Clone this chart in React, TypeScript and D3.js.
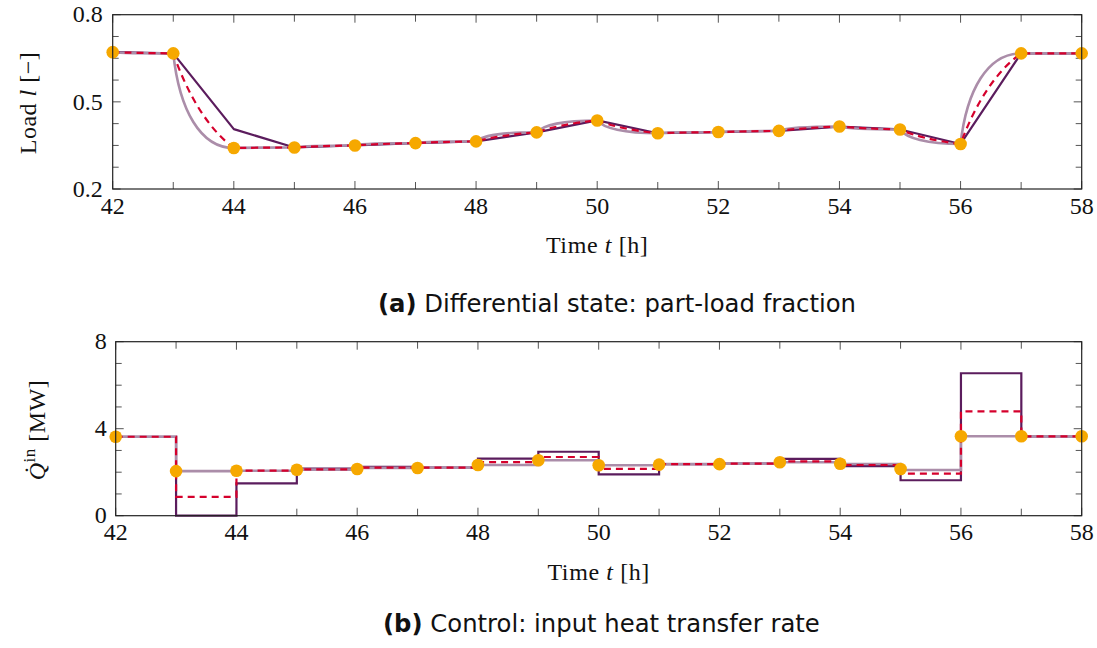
import React from "react";
import * as d3 from "d3";

// ---------- data ----------
const hours = [42, 43, 44, 45, 46, 47, 48, 49, 50, 51, 52, 53, 54, 55, 56, 57, 58];
// part-load fraction at the collocation points (orange dots)
const loadPoints = [0.671, 0.667, 0.341, 0.343, 0.35, 0.358, 0.364, 0.395, 0.436, 0.392, 0.396, 0.4, 0.415, 0.405, 0.355, 0.667, 0.667];
const loadDark = [0.671, 0.667, 0.406, 0.343, 0.35, 0.358, 0.364, 0.395, 0.436, 0.392, 0.396, 0.4, 0.415, 0.405, 0.355, 0.667, 0.667];
const loadRed = [0.671, 0.667, 0.341, 0.343, 0.35, 0.358, 0.364, 0.395, 0.436, 0.392, 0.396, 0.4, 0.415, 0.405, 0.355, 0.667, 0.667];
const loadMauve = [0.671, 0.667, 0.341, 0.343, 0.35, 0.358, 0.364, 0.395, 0.436, 0.392, 0.396, 0.4, 0.415, 0.405, 0.355, 0.667, 0.667];

// input heat transfer rate per hour interval [k, k+1], k = 42..57
const qMauve = [3.63, 2.05, 2.07, 2.12, 2.2, 2.21, 2.33, 2.55, 2.32, 2.37, 2.39, 2.46, 2.38, 2.1, 3.65, 3.65];
const qRed = [3.63, 0.87, 2.07, 2.13, 2.21, 2.21, 2.46, 2.7, 2.15, 2.37, 2.39, 2.5, 2.33, 1.93, 4.8, 3.65];
const qDark = [3.63, 0.0, 1.49, 2.16, 2.25, 2.21, 2.62, 2.94, 1.9, 2.37, 2.39, 2.61, 2.28, 1.63, 6.55, 3.65];
const qPoints = [3.63, 2.05, 2.07, 2.11, 2.15, 2.19, 2.33, 2.55, 2.32, 2.35, 2.37, 2.46, 2.39, 2.15, 3.65, 3.65, 3.65];

const xTicksMajor = [42, 44, 46, 48, 50, 52, 54, 56, 58];
const xTicksMinor = [43, 45, 47, 49, 51, 53, 55, 57];
const loadTicksMajor = [0.2, 0.5, 0.8];
const loadTicksMinor = [0.275, 0.35, 0.425, 0.575, 0.65, 0.725];
const qTicksMajor = [0, 4, 8];
const qTicksMinor = [1, 2, 3, 5, 6, 7];

// ---------- style ----------
const C_DARK = "#5b1c5d";
const C_MAUVE = "#ab8da9";
const C_RED = "#d5002c";
const C_DOT = "#f6a800";
const SERIF = "'Liberation Serif', 'DejaVu Serif', serif";
const SANS = "'DejaVu Sans', 'Liberation Sans', sans-serif";
const FS = 24;

// custom d3 curve: first-order (relaxation) shaped segments, s = 0 -> linear
function curveRelax(s: number) {
  return (context: any) => {
    let started = false;
    let x0 = 0, y0 = 0;
    return {
      areaStart() {},
      areaEnd() {},
      lineStart() { started = false; },
      lineEnd() {},
      point(x: number, y: number) {
        if (!started) {
          context.moveTo(x, y);
          started = true;
        } else {
          const dx = x - x0, dy = y - y0;
          context.bezierCurveTo(
            x0 + dx * (1 / 3 - s * 0.2333), y0 + dy * (1 / 3 + s * 0.2667),
            x0 + dx * (2 / 3 - s * 0.2167), y0 + dy * (2 / 3 + s / 3),
            x, y
          );
        }
        x0 = x; y0 = y;
      },
    };
  };
}

type Panel = {
  left: number; right: number; top: number; bottom: number;
};

function Frame({ p, x, y, yMaj, yMin }: { p: Panel; x: any; y: any; yMaj: number[]; yMin: number[] }) {
  const tk = "#555";
  return (
    <g>
      {xTicksMajor.map((t) => (
        <g key={"xM" + t}>
          <line x1={x(t)} x2={x(t)} y1={p.bottom} y2={p.bottom - 8} stroke={tk} strokeWidth={1} />
          <line x1={x(t)} x2={x(t)} y1={p.top} y2={p.top + 8} stroke={tk} strokeWidth={1} />
        </g>
      ))}
      {xTicksMinor.map((t) => (
        <g key={"xm" + t}>
          <line x1={x(t)} x2={x(t)} y1={p.bottom} y2={p.bottom - 7} stroke={tk} strokeWidth={1} />
          <line x1={x(t)} x2={x(t)} y1={p.top} y2={p.top + 7} stroke={tk} strokeWidth={1} />
        </g>
      ))}
      {yMaj.map((t) => (
        <g key={"yM" + t}>
          <line x1={p.left} x2={p.left + 8} y1={y(t)} y2={y(t)} stroke={tk} strokeWidth={1} />
          <line x1={p.right} x2={p.right - 8} y1={y(t)} y2={y(t)} stroke={tk} strokeWidth={1} />
        </g>
      ))}
      {yMin.map((t) => (
        <g key={"ym" + t}>
          <line x1={p.left} x2={p.left + 6} y1={y(t)} y2={y(t)} stroke={tk} strokeWidth={1} />
          <line x1={p.right} x2={p.right - 6} y1={y(t)} y2={y(t)} stroke={tk} strokeWidth={1} />
        </g>
      ))}
    </g>
  );
}

function Border({ p }: { p: Panel }) {
  return (
    <rect x={p.left} y={p.top} width={p.right - p.left} height={p.bottom - p.top}
      fill="none" stroke="#222" strokeWidth={1.2} />
  );
}

function XLabels({ p, x }: { p: Panel; x: any }) {
  return (
    <g fontFamily={SERIF} fontSize={FS} fill="#111" textAnchor="middle">
      {xTicksMajor.map((t) => (
        <text key={t} x={x(t)} y={p.bottom + 24.5}>{t}</text>
      ))}
      <text x={(p.left + p.right) / 2} y={p.bottom + 64} letterSpacing={0.6}>
        Time <tspan fontStyle="italic">t</tspan> [h]
      </text>
    </g>
  );
}

export default function App() {
  // ----- panel (a) -----
  const pa: Panel = { left: 112.7, right: 1081.7, top: 14.7, bottom: 189 };
  const xa = d3.scaleLinear().domain([42, 58]).range([pa.left, pa.right]);
  const ya = d3.scaleLinear().domain([0.2, 0.8]).range([pa.bottom, pa.top]);

  const lineA = (vals: number[], s: number) =>
    d3.line<number>()
      .x((_, i) => xa(hours[i]))
      .y((v) => ya(v))
      .curve(s === 0 ? d3.curveLinear : (curveRelax(s) as any))(vals) || "";

  // ----- panel (b) -----
  const pb: Panel = { left: 115.7, right: 1081.7, top: 341.7, bottom: 515.7 };
  const xb = d3.scaleLinear().domain([42, 58]).range([pb.left, pb.right]);
  const yb = d3.scaleLinear().domain([0, 8]).range([pb.bottom, pb.top]);

  const stepB = (vals: number[]) => {
    const pts: [number, number][] = vals.map((v, i) => [hours[i], v]);
    pts.push([hours[vals.length], vals[vals.length - 1]]);
    return d3.line<[number, number]>()
      .x((d) => xb(d[0]))
      .y((d) => yb(d[1]))
      .curve(d3.curveStepAfter)(pts) || "";
  };

  return (
    <svg width={1097} height={648} style={{ position: "absolute", left: 0, top: 0, background: "#fff" }}>
      <rect x={0} y={0} width={1097} height={648} fill="#fff" />

      {/* ===== (a) ===== */}
      <Frame p={pa} x={xa} y={ya} yMaj={loadTicksMajor} yMin={loadTicksMinor} />
      <g fill="none" strokeLinejoin="round">
        <path d={lineA(loadDark, 0)} stroke={C_DARK} strokeWidth={2.2} />
        <path d={lineA(loadMauve, 1)} stroke={C_MAUVE} strokeWidth={2.6} />
        <path d={lineA(loadRed, 0.4)} stroke={C_RED} strokeWidth={2.2} strokeDasharray="7,5" />
      </g>
      {loadPoints.map((v, i) => (
        <circle key={i} cx={xa(hours[i])} cy={ya(v)} r={6.3} fill={C_DOT} />
      ))}
      <Border p={pa} />
      <g fontFamily={SERIF} fontSize={FS} fill="#111" textAnchor="end">
        {loadTicksMajor.map((t) => (
          <text key={t} x={pa.left - 10} y={ya(t) + 7.7}>{d3.format(".1f")(t)}</text>
        ))}
      </g>
      <XLabels p={pa} x={xa} />
      <text transform="translate(36,103) rotate(-90)" textAnchor="middle" fontFamily={SERIF} fontSize={FS} fill="#111" letterSpacing={0.5}>
        Load <tspan fontStyle="italic">l</tspan> [−]
      </text>
      <text x={378} y={311.5} fontFamily={SANS} fontSize={24.3} fill="#111">
        <tspan fontWeight="bold">(a)</tspan> Differential state: part-load fraction
      </text>

      {/* ===== (b) ===== */}
      <Frame p={pb} x={xb} y={yb} yMaj={qTicksMajor} yMin={qTicksMinor} />
      <g fill="none" strokeLinejoin="miter">
        <path d={stepB(qDark)} stroke={C_DARK} strokeWidth={2.2} />
        <path d={stepB(qMauve)} stroke={C_MAUVE} strokeWidth={2.6} />
        <path d={stepB(qRed)} stroke={C_RED} strokeWidth={2.2} strokeDasharray="7,5" />
      </g>
      {qPoints.map((v, i) => (
        <circle key={i} cx={xb(hours[i])} cy={yb(v)} r={6.3} fill={C_DOT} />
      ))}
      <Border p={pb} />
      <g fontFamily={SERIF} fontSize={FS} fill="#111" textAnchor="end">
        {qTicksMajor.map((t) => (
          <text key={t} x={pb.left - 9} y={yb(t) + 7.7}>{t}</text>
        ))}
      </g>
      <XLabels p={pb} x={xb} />
      <text transform="translate(45,430) rotate(-90)" textAnchor="middle" fontFamily={SERIF} fontSize={FS} fill="#111" letterSpacing={0.5}>
        <tspan fontStyle="italic">Q̇</tspan>
        <tspan fontSize={17} dy={-10}>in</tspan>
        <tspan dy={10}> [MW]</tspan>
      </text>
      <text x={383} y={631.5} fontFamily={SANS} fontSize={24.3} fill="#111">
        <tspan fontWeight="bold">(b)</tspan> Control: input heat transfer rate
      </text>
    </svg>
  );
}
